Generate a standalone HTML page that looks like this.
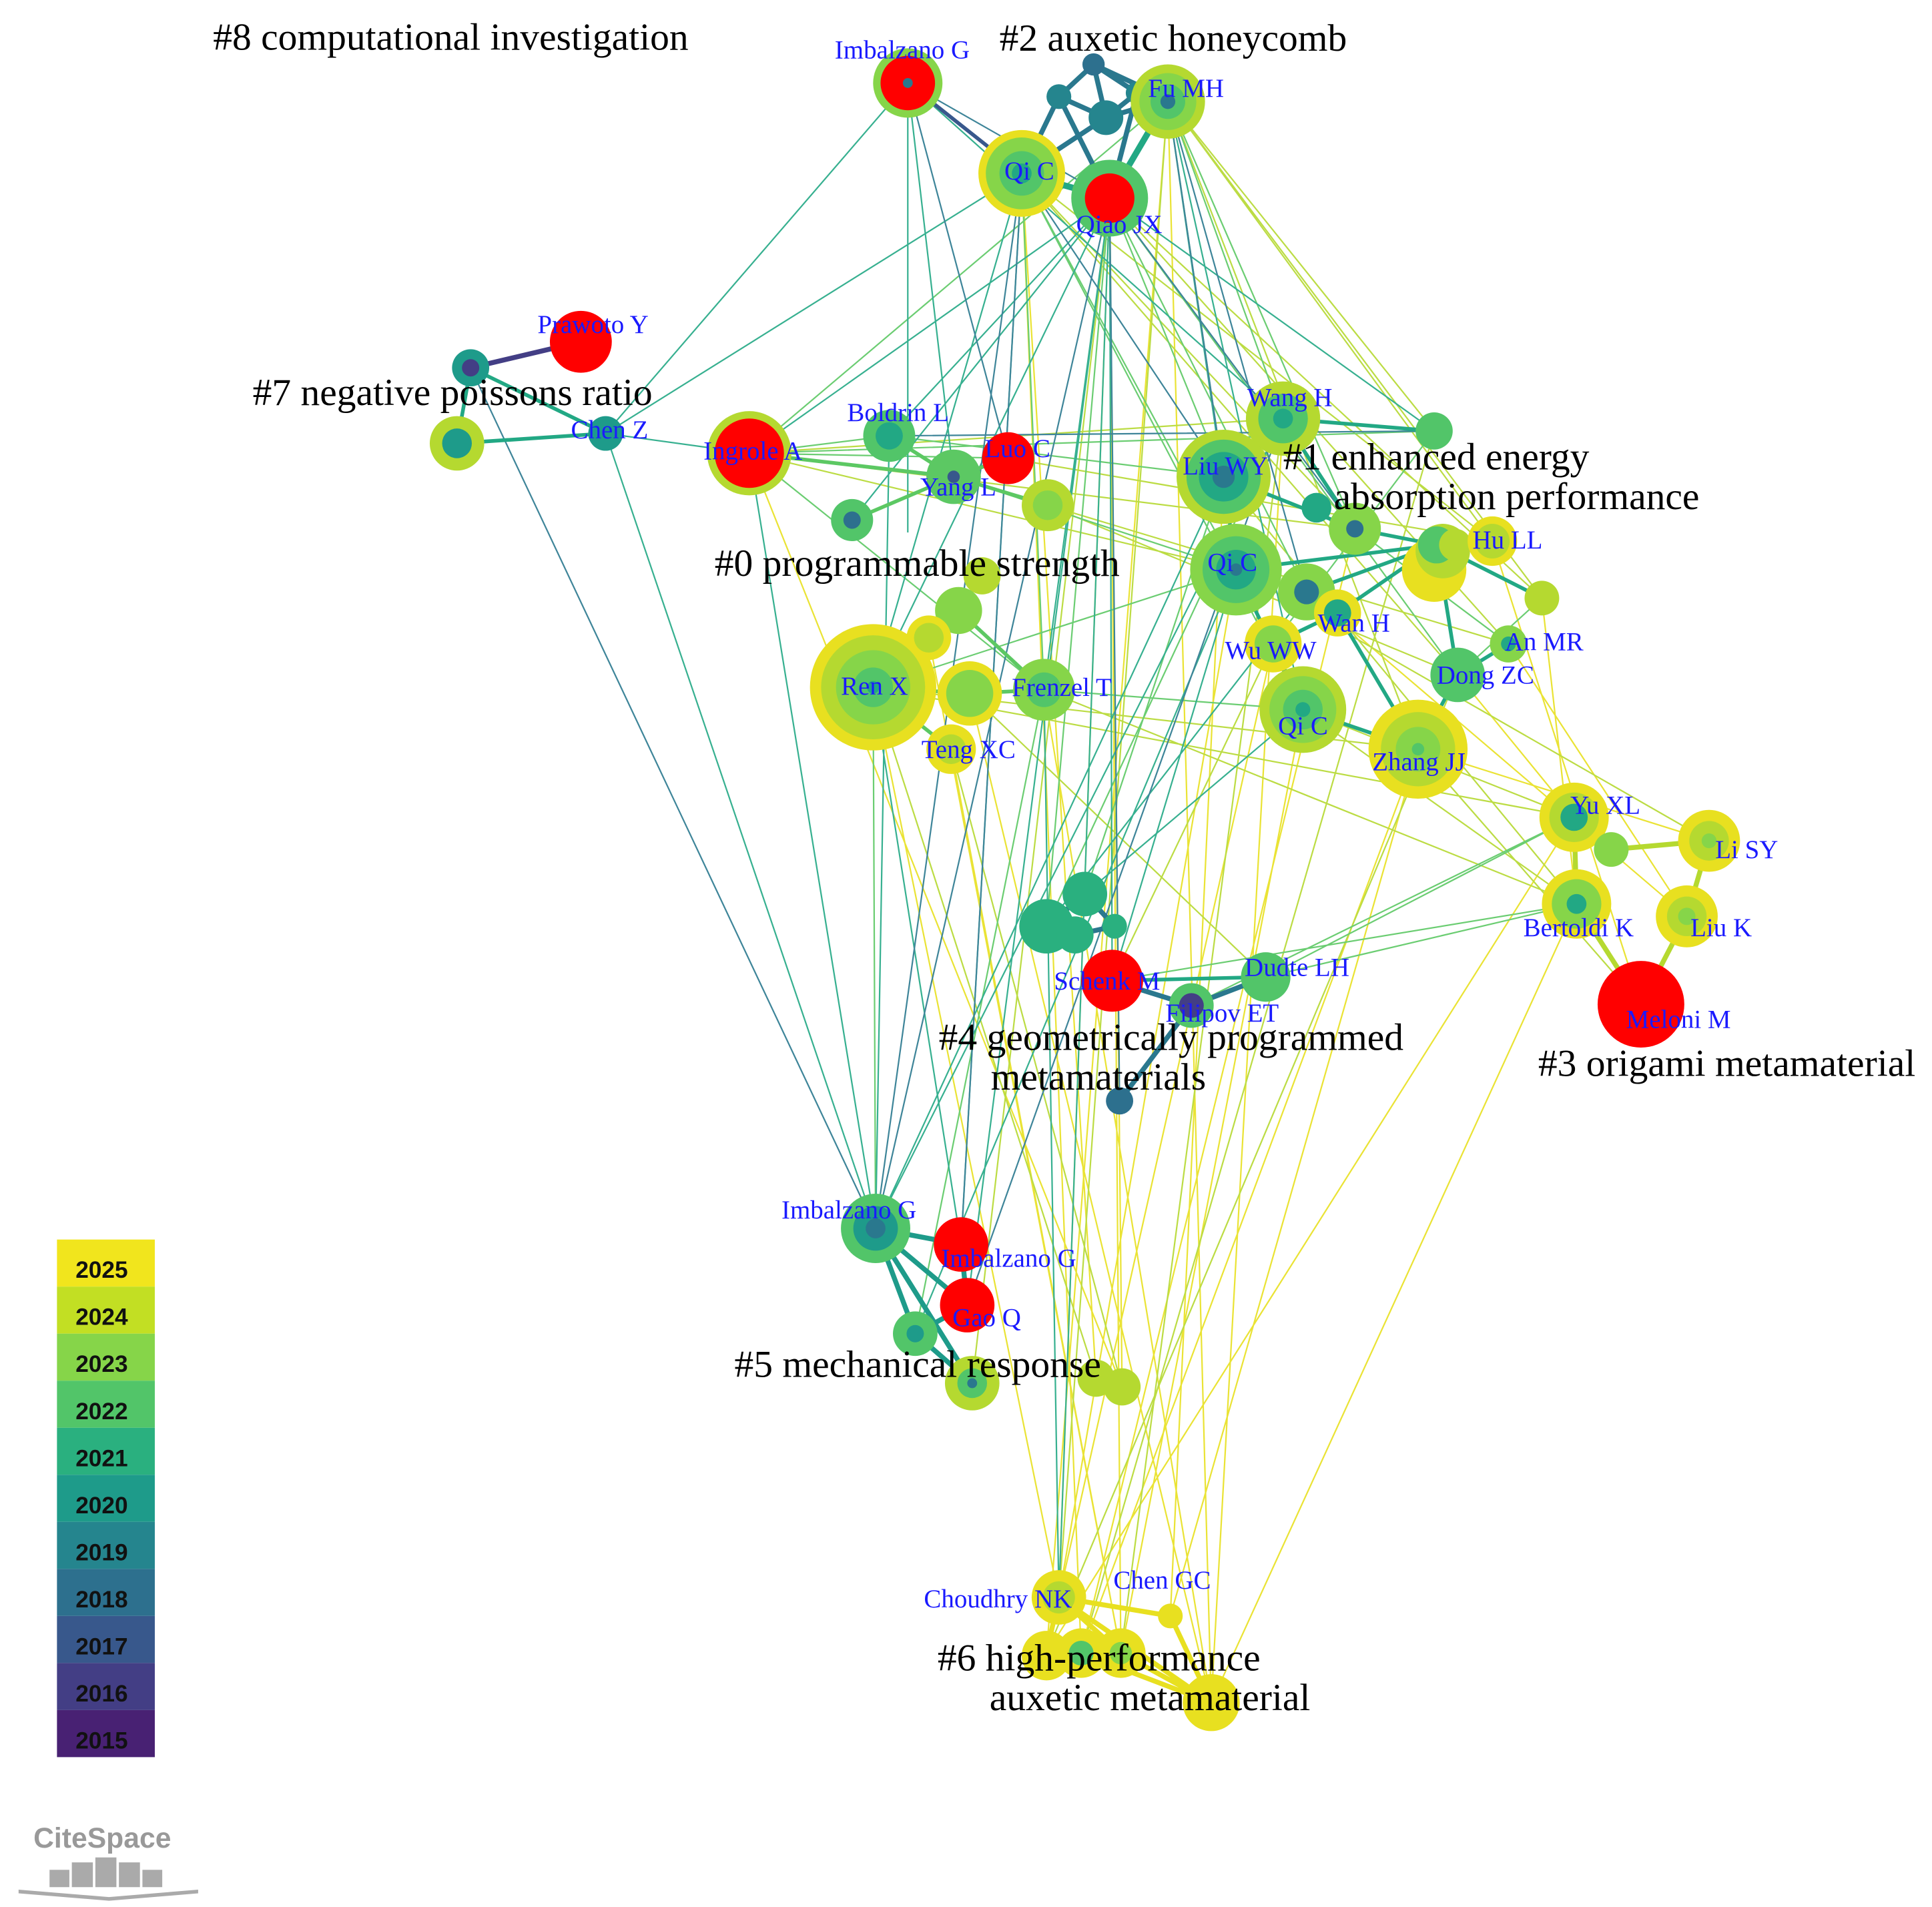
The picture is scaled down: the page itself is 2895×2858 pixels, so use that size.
<!DOCTYPE html>
<html><head><meta charset="utf-8"><style>
html,body{margin:0;padding:0;background:#fff;}
svg{display:block;}
.l{font-family:"Liberation Serif",serif;fill:#1a1aff;font-size:21px;}
.c{font-family:"Liberation Serif",serif;fill:#000;font-size:31px;}
.y{font-family:"Liberation Sans",sans-serif;font-weight:bold;font-size:19px;fill:#111;}
</style></head><body>
<svg width="2895" height="2858" viewBox="0 0 1560 1540" xmlns="http://www.w3.org/2000/svg">
<rect width="1560" height="1540" fill="#fff"/>
<g stroke-width="1.2" fill="none" opacity="0.9">
<g stroke="#e8e020">
<path d="M896 160L855 1290M896 160L905 1335M825 140L873 1335M943 80L978 1375M943 80L845 1335M998 460L855 1290M1052 573L905 1335M1145 605L945 1305M1145 605L873 1335M1036 338L978 1375M705 555L855 1290M768 605L905 1335M783 560L978 1375M1271 660L845 1335M1273 730L978 1375M1205 437L1325 811M1177 545L1271 660M1028 520L855 1290M988 385L945 1305M843 557L978 1375M750 515L905 1335M1145 605L1380 679M1055 478L1362 740M825 140L885 1113M896 160L906 1120M605 366L906 1120M1094 427L873 1335M1218 520L1362 740M1245 483L1273 730"/>
</g>
<g stroke="#b5d930">
<path d="M943 80L1158 348M943 80L1205 437M943 80L1245 483M943 80L1145 605M825 140L1094 427M825 140L1177 545M896 160L1218 520M896 160L1245 483M605 366L1036 338M605 366L1094 427M605 366L998 460M814 370L1205 437M846 408L1218 520M705 555L1271 660M843 557L1273 730M1052 573L1271 660M1052 573L1273 730M998 460L1380 679M1145 605L1325 811M705 555L885 1113M768 605L906 1120M783 560L1022 789M896 160L785 1117M943 80L855 1290M1036 338L905 1335M1158 348L873 1335M1177 545L845 1335M1028 520L898 792M988 385L1273 730M733 67L1205 437M846 408L1177 545M705 555L1145 605"/>
</g>
<g stroke="#5cc863">
<path d="M943 80L605 366M943 80L988 385M943 80L1036 338M943 80L1094 427M825 140L998 460M825 140L1052 573M896 160L988 385M896 160L1055 478M896 160L1177 545M605 366L718 352M605 366L814 370M605 366L843 557M605 366L1158 348M718 352L988 385M770 385L998 460M705 555L998 460M843 557L1052 573M1022 789L1271 660M1022 789L1273 730M962 812L1271 660M898 792L1273 730M705 555L707 992M843 557L739 1077M896 160L845 748M825 140L843 557M1036 338L845 748M988 385L876 722M733 67L825 140M1158 348L1028 520M1245 483L1177 545M1094 427L1218 520"/>
</g>
<g stroke="#22a884">
<path d="M896 160L605 366M896 160L718 352M825 140L489 350M733 67L489 350M733 67L733 430M896 160L705 555M896 160L843 557M825 140L705 555M943 80L998 460M943 80L1052 573M489 350L707 992M489 350L605 366M605 366L707 992M718 352L707 992M825 140L776 1005M896 160L781 1054M896 160L898 792M896 160L855 1290M998 460L898 792M1052 573L876 722M1055 478L845 748M988 385L707 992M705 555L776 1005M843 557L855 1290M733 67L1036 338M733 67L770 385M688 420L896 160M1158 348L896 160M1036 338L707 992M998 460L739 1077"/>
</g>
<g stroke="#2a788e">
<path d="M896 160L707 992M825 140L707 992M733 67L896 160M943 80L988 385M896 160L904 889M380 297L707 992M896 160L1094 427M825 140L776 1005M733 67L814 370M825 140L988 385M1036 338L781 1054M943 80L1055 478M718 352L1158 348"/>
</g>
</g>
<g fill="none" stroke-linecap="round">
<path d="M733 67L825 140" stroke="#38588c" stroke-width="3"/>
<path d="M855 78L883 52L918 75L893 95L855 78M883 52L893 95M855 78L896 160M918 75L896 160M893 95L825 140M883 52L943 80M918 75L943 80M893 95L943 80M855 78L825 140" stroke="#2a788e" stroke-width="4"/>
<path d="M943 80L896 160M825 140L896 160" stroke="#22a884" stroke-width="5"/>
<path d="M380 297L469 276" stroke="#433e85" stroke-width="4"/>
<path d="M380 297L369 358L489 350L380 297" stroke="#22a884" stroke-width="3"/>
<path d="M718 352L770 385L814 370M688 420L770 385L846 408M605 366L770 385M705 555L783 560L843 557M705 555L768 605M750 515L774 493L793 465M750 515L705 555M774 493L843 557" stroke="#5cc863" stroke-width="3"/>
<path d="M988 385L1036 338L1158 348M988 385L998 460L1052 573M998 460L1055 478L1080 495L1028 520L1052 573M1094 427L1160 440L1205 437M1055 478L1160 440L1177 545L1218 520M1245 483L1160 440M1052 573L1145 605L1177 545M1080 495L1160 440M998 460L1160 440M1036 338L1094 427M988 385L1094 427M1145 605L1080 495" stroke="#22a884" stroke-width="3"/>
<path d="M1271 660L1301 686L1380 679L1362 740M1273 730L1271 660M1273 730L1325 811M1362 740L1325 811" stroke="#b5d930" stroke-width="4"/>
<path d="M898 792L962 812L1022 789M962 812L904 889M845 748L876 722L900 748L868 755L845 748" stroke="#2a788e" stroke-width="4"/>
<path d="M898 792L1022 789" stroke="#22a884" stroke-width="3"/>
<path d="M707 992L776 1005L781 1054L739 1077L707 992M707 992L785 1117M707 992L781 1054M739 1077L785 1117" stroke="#1e9b8a" stroke-width="4"/>
<path d="M855 1290L945 1305L978 1375L905 1335L873 1335L845 1335L855 1290M855 1290L905 1335M855 1290L978 1375M873 1335L978 1375" stroke="#e8e020" stroke-width="4"/>
<path d="M885 1113L906 1120" stroke="#b5d930" stroke-width="3"/>
</g>
<g>
<circle cx="733" cy="67" r="28" fill="#86d549"/><circle cx="733" cy="67" r="22" fill="#f00"/><circle cx="733" cy="67" r="4" fill="#2a788e"/>
<circle cx="883" cy="52" r="9" fill="#2d708e"/><circle cx="855" cy="78" r="10" fill="#25858e"/><circle cx="918" cy="75" r="9" fill="#25858e"/><circle cx="893" cy="95" r="14" fill="#25858e"/>
<circle cx="943" cy="82" r="30" fill="#b5d930"/><circle cx="943" cy="82" r="23" fill="#86d549"/><circle cx="943" cy="82" r="14" fill="#52c569"/><circle cx="943" cy="82" r="6" fill="#2a788e"/>
<circle cx="825" cy="140" r="35" fill="#e8e020"/><circle cx="825" cy="140" r="29" fill="#86d549"/><circle cx="825" cy="140" r="18" fill="#52c569"/><circle cx="825" cy="140" r="8" fill="#22a884"/>
<circle cx="896" cy="160" r="31" fill="#52c569"/><circle cx="896" cy="160" r="20" fill="#f00"/>
<circle cx="469" cy="276" r="25" fill="#f00"/>
<circle cx="380" cy="297" r="15" fill="#1e9b8a"/><circle cx="380" cy="297" r="7" fill="#433e85"/>
<circle cx="369" cy="358" r="22" fill="#b5d930"/><circle cx="369" cy="358" r="12" fill="#1e9b8a"/>
<circle cx="489" cy="350" r="14" fill="#1e9b8a"/>
<circle cx="605" cy="366" r="34" fill="#b5d930"/><circle cx="605" cy="366" r="28" fill="#f00"/>
<circle cx="718" cy="352" r="21" fill="#52c569"/><circle cx="718" cy="352" r="11" fill="#22a884"/>
<circle cx="770" cy="385" r="22" fill="#5cc863"/><circle cx="770" cy="385" r="5" fill="#38588c"/>
<circle cx="814" cy="370" r="21" fill="#f00"/>
<circle cx="688" cy="420" r="17" fill="#52c569"/><circle cx="688" cy="420" r="7" fill="#2d708e"/>
<circle cx="846" cy="408" r="21" fill="#b5d930"/><circle cx="846" cy="408" r="12" fill="#86d549"/>
<circle cx="1036" cy="338" r="30" fill="#b5d930"/><circle cx="1036" cy="338" r="20" fill="#52c569"/><circle cx="1036" cy="338" r="8" fill="#22a884"/>
<circle cx="1158" cy="348" r="15" fill="#52c569"/>
<circle cx="988" cy="385" r="38" fill="#b5d930"/><circle cx="988" cy="385" r="30" fill="#52c569"/><circle cx="988" cy="385" r="20" fill="#22a884"/><circle cx="988" cy="385" r="9" fill="#2a788e"/>
<circle cx="1063" cy="410" r="12" fill="#22a884"/>
<circle cx="1094" cy="427" r="21" fill="#86d549"/><circle cx="1094" cy="427" r="7" fill="#2d708e"/>
<circle cx="1158" cy="460" r="26" fill="#e8e020"/><circle cx="1165" cy="445" r="22" fill="#b5d930"/><circle cx="1160" cy="440" r="15" fill="#52c569"/><circle cx="1175" cy="440" r="13" fill="#b5d930"/>
<circle cx="1205" cy="437" r="20" fill="#e8e020"/><circle cx="1205" cy="437" r="14" fill="#b5d930"/>
<circle cx="998" cy="460" r="37" fill="#86d549"/><circle cx="998" cy="460" r="27" fill="#52c569"/><circle cx="998" cy="460" r="16" fill="#22a884"/><circle cx="998" cy="460" r="5" fill="#2a788e"/>
<circle cx="1055" cy="478" r="23" fill="#86d549"/><circle cx="1055" cy="478" r="10" fill="#2a788e"/>
<circle cx="1080" cy="495" r="19" fill="#e8e020"/><circle cx="1080" cy="495" r="11" fill="#22a884"/>
<circle cx="1028" cy="520" r="23" fill="#e8e020"/><circle cx="1028" cy="520" r="15" fill="#86d549"/>
<circle cx="1245" cy="483" r="14" fill="#b5d930"/>
<circle cx="1218" cy="520" r="15" fill="#86d549"/><circle cx="1218" cy="520" r="6" fill="#22a884"/>
<circle cx="1177" cy="545" r="22" fill="#52c569"/>
<circle cx="1052" cy="573" r="35" fill="#b5d930"/><circle cx="1052" cy="573" r="27" fill="#86d549"/><circle cx="1052" cy="573" r="16" fill="#52c569"/><circle cx="1052" cy="573" r="6" fill="#22a884"/>
<circle cx="1145" cy="605" r="40" fill="#e8e020"/><circle cx="1145" cy="605" r="30" fill="#b5d930"/><circle cx="1145" cy="605" r="18" fill="#86d549"/><circle cx="1145" cy="605" r="5" fill="#52c569"/>
<circle cx="705" cy="555" r="51" fill="#e8e020"/><circle cx="705" cy="555" r="42" fill="#b5d930"/><circle cx="705" cy="555" r="30" fill="#86d549"/><circle cx="705" cy="555" r="16" fill="#52c569"/><circle cx="705" cy="555" r="5" fill="#22a884"/>
<circle cx="793" cy="465" r="15" fill="#b5d930"/><circle cx="774" cy="493" r="19" fill="#86d549"/><circle cx="750" cy="515" r="18" fill="#e8e020"/><circle cx="750" cy="515" r="12" fill="#b5d930"/>
<circle cx="783" cy="560" r="26" fill="#e8e020"/><circle cx="783" cy="560" r="19" fill="#86d549"/>
<circle cx="768" cy="605" r="20" fill="#e8e020"/><circle cx="768" cy="605" r="12" fill="#b5d930"/>
<circle cx="843" cy="557" r="25" fill="#86d549"/><circle cx="843" cy="557" r="14" fill="#52c569"/>
<circle cx="1271" cy="660" r="28" fill="#e8e020"/><circle cx="1271" cy="660" r="20" fill="#b5d930"/><circle cx="1271" cy="660" r="11" fill="#22a884"/>
<circle cx="1301" cy="686" r="14" fill="#86d549"/>
<circle cx="1380" cy="679" r="25" fill="#e8e020"/><circle cx="1380" cy="679" r="16" fill="#b5d930"/><circle cx="1380" cy="679" r="6" fill="#86d549"/>
<circle cx="1362" cy="740" r="25" fill="#e8e020"/><circle cx="1362" cy="740" r="16" fill="#b5d930"/><circle cx="1362" cy="740" r="7" fill="#86d549"/>
<circle cx="1273" cy="730" r="28" fill="#e8e020"/><circle cx="1273" cy="730" r="20" fill="#86d549"/><circle cx="1273" cy="730" r="8" fill="#22a884"/>
<circle cx="1325" cy="811" r="35" fill="#f00"/>
<circle cx="845" cy="748" r="22" fill="#2ab07f"/><circle cx="876" cy="722" r="18" fill="#2ab07f"/><circle cx="868" cy="755" r="15" fill="#2ab07f"/><circle cx="900" cy="748" r="10" fill="#2ab07f"/>
<circle cx="898" cy="792" r="25" fill="#f00"/>
<circle cx="1022" cy="789" r="20" fill="#52c569"/>
<circle cx="962" cy="812" r="18" fill="#52c569"/><circle cx="962" cy="812" r="10" fill="#433e85"/>
<circle cx="904" cy="889" r="11" fill="#2d708e"/>
<circle cx="707" cy="992" r="28" fill="#52c569"/><circle cx="707" cy="992" r="18" fill="#1e9b8a"/><circle cx="707" cy="992" r="8" fill="#2a788e"/>
<circle cx="776" cy="1005" r="22" fill="#f00"/><circle cx="781" cy="1054" r="22" fill="#f00"/>
<circle cx="739" cy="1077" r="18" fill="#52c569"/><circle cx="739" cy="1077" r="7" fill="#1e9b8a"/>
<circle cx="785" cy="1117" r="22" fill="#b5d930"/><circle cx="785" cy="1117" r="12" fill="#52c569"/><circle cx="785" cy="1117" r="4" fill="#2a788e"/>
<circle cx="885" cy="1113" r="15" fill="#b5d930"/><circle cx="906" cy="1120" r="15" fill="#b5d930"/>
<circle cx="855" cy="1290" r="22" fill="#e8e020"/><circle cx="855" cy="1290" r="13" fill="#b5d930"/>
<circle cx="945" cy="1305" r="10" fill="#e8e020"/>
<circle cx="845" cy="1337" r="20" fill="#e8e020"/><circle cx="873" cy="1335" r="20" fill="#e8e020"/><circle cx="873" cy="1335" r="10" fill="#52c569"/><circle cx="905" cy="1335" r="20" fill="#e8e020"/><circle cx="905" cy="1335" r="9" fill="#86d549"/>
<circle cx="978" cy="1375" r="23" fill="#e8e020"/>
</g>
<g class="l">
<text x="674" y="47">Imbalzano G</text><text x="927" y="78">Fu MH</text><text x="811" y="145">Qi C</text><text x="869" y="188">Qiao JX</text>
<text x="434" y="269">Prawoto Y</text><text x="461" y="354">Chen Z</text><text x="568" y="371">Ingrole A</text><text x="684" y="340">Boldrin L</text>
<text x="795" y="369">Luo C</text><text x="743" y="400">Yang L</text><text x="1007" y="328">Wang H</text><text x="955" y="383">Liu WY</text>
<text x="1189" y="443">Hu LL</text><text x="975" y="461">Qi C</text><text x="1064" y="510">Wan H</text><text x="989" y="532">Wu WW</text>
<text x="1215" y="525">An MR</text><text x="1160" y="552">Dong ZC</text><text x="1032" y="593">Qi C</text><text x="1108" y="622">Zhang JJ</text>
<text x="679" y="561">Ren X</text><text x="817" y="562">Frenzel T</text><text x="744" y="612">Teng XC</text>
<text x="1268" y="657">Yu XL</text><text x="1385" y="693">Li SY</text><text x="1365" y="756">Liu K</text><text x="1230" y="756">Bertoldi K</text>
<text x="1313" y="830">Meloni M</text><text x="851" y="799">Schenk M</text><text x="1005" y="788">Dudte LH</text><text x="941" y="825">Filipov ET</text>
<text x="631" y="984">Imbalzano G</text><text x="760" y="1023">Imbalzano G</text><text x="769" y="1071">Gao Q</text>
<text x="746" y="1298">Choudhry NK</text><text x="899" y="1283">Chen GC</text>
</g>
<g class="c">
<text x="172" y="40">#8 computational investigation</text>
<text x="807" y="41">#2 auxetic honeycomb</text>
<text x="204" y="327">#7 negative poissons ratio</text>
<text x="1036" y="379">#1 enhanced energy</text>
<text x="1077" y="411">absorption performance</text>
<text x="577" y="465">#0 programmable strength</text>
<text x="758" y="848">#4 geometrically programmed</text>
<text x="800" y="880">metamaterials</text>
<text x="1242" y="869">#3 origami metamaterial</text>
<text x="593" y="1112">#5 mechanical response</text>
<text x="757" y="1349">#6 high-performance</text>
<text x="799" y="1381">auxetic metamaterial</text>
</g>
<g>
<rect x="46" y="1001" width="79" height="38" fill="#f1e51d"/>
<rect x="46" y="1039" width="79" height="38" fill="#c2df23"/>
<rect x="46" y="1077" width="79" height="38" fill="#86d549"/>
<rect x="46" y="1115" width="79" height="38" fill="#52c569"/>
<rect x="46" y="1153" width="79" height="38" fill="#2ab07f"/>
<rect x="46" y="1191" width="79" height="38" fill="#1e9b8a"/>
<rect x="46" y="1229" width="79" height="38" fill="#25858e"/>
<rect x="46" y="1267" width="79" height="38" fill="#2d708e"/>
<rect x="46" y="1305" width="79" height="38" fill="#38588c"/>
<rect x="46" y="1343" width="79" height="38" fill="#433e85"/>
<rect x="46" y="1381" width="79" height="38" fill="#482173"/>
</g>
<g class="y">
<text x="61" y="1032">2025</text><text x="61" y="1070">2024</text><text x="61" y="1108">2023</text><text x="61" y="1146">2022</text>
<text x="61" y="1184">2021</text><text x="61" y="1222">2020</text><text x="61" y="1260">2019</text><text x="61" y="1298">2018</text>
<text x="61" y="1336">2017</text><text x="61" y="1374">2016</text><text x="61" y="1412">2015</text>
</g>
<g fill="#aaa">
<text x="27" y="1492" font-family="Liberation Sans,sans-serif" font-weight="bold" font-size="23" fill="#999">CiteSpace</text>
<rect x="40" y="1510" width="16" height="14"/><rect x="58" y="1504" width="17" height="20"/><rect x="77" y="1500" width="17" height="24"/><rect x="96" y="1504" width="17" height="20"/><rect x="115" y="1510" width="16" height="14"/>
<path d="M15 1526L88 1532L160 1526L160 1529L88 1535L15 1529Z"/>
</g>
</svg>
</body></html>
